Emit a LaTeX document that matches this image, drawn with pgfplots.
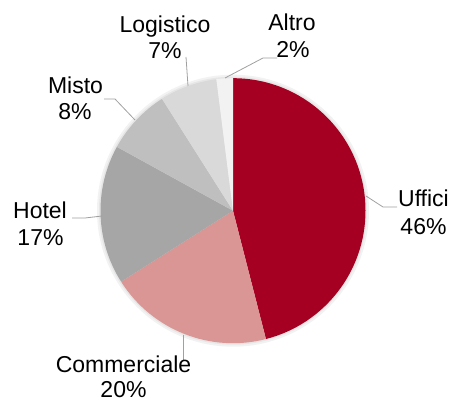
\documentclass[border=0pt]{standalone}
\usepackage{pgfplots}
\pgfplotsset{compat=1.18}
\usepackage{pgfplotstable}
\usepackage{fontspec}
\setmainfont{Liberation Sans}

\definecolor{uffici}{HTML}{A50021}
\definecolor{comm}{HTML}{D99694}
\definecolor{hotel}{HTML}{A6A6A6}
\definecolor{misto}{HTML}{BFBFBF}
\definecolor{logist}{HTML}{D9D9D9}
\definecolor{altro}{HTML}{F2F2F2}
\definecolor{leader}{HTML}{A0A0A0}

% share (%) of each sector, clockwise from 12 o'clock
\pgfplotstableread{
label value color
Uffici 46 uffici
Commerciale 20 comm
Hotel 17 hotel
Misto 8 misto
Logistico 7 logist
Altro 2 altro
}\piedata

\begin{document}
\begin{tikzpicture}
\begin{axis}[
    width=452bp, height=403bp,
    scale only axis,
    xmin=0, xmax=452,
    ymin=0, ymax=403,
    hide axis,
    clip=false,
]
% soft glow behind the pie
\fill[black, opacity=0.05] (axis cs:233,192.3) circle[radius=136bp];
\fill[black, opacity=0.05] (axis cs:233,192.3) circle[radius=134bp];

\gdef\angacc{90}
\pgfplotsinvokeforeach{0,...,5}{
    \pgfplotstablegetelem{#1}{value}\of\piedata
    \let\v\pgfplotsretval
    \pgfplotstablegetelem{#1}{color}\of\piedata
    \let\c\pgfplotsretval
    \pgfmathsetmacro\angend{\angacc-3.6*\v}
    \edef\temp{\noexpand\fill[\c] (axis cs:233,192.3) -- ++(\angacc:132.5bp)
        arc[start angle=\angacc, end angle=\angend, radius=132.5bp] -- cycle;}
    \temp
    \global\let\angacc\angend
}

% leader lines
\addplot[leader, line width=0.8pt, no markers] coordinates {(366,207) (383,196) (397,196)};
\addplot[leader, line width=0.8pt, no markers] coordinates {(183,68) (183,42)};
\addplot[leader, line width=0.8pt, no markers] coordinates {(102,187) (85,185) (72,185)};
\addplot[leader, line width=0.8pt, no markers] coordinates {(135,283) (115,304) (104,304)};
\addplot[leader, line width=0.8pt, no markers] coordinates {(188,317) (186,346)};
\addplot[leader, line width=0.8pt, no markers] coordinates {(225,325) (263,345) (277,345)};

% labels
\begin{scope}[every node/.style={anchor=base, inner sep=0pt, font=\fontsize{23bp}{27bp}\selectfont}]
\node at (axis cs:423.5,196.3) {Uffici};
\node at (axis cs:423.5,168.7) {46\%};
\node at (axis cs:123.5,31) {Commerciale};
\node at (axis cs:123.5,5.5) {20\%};
\node at (axis cs:40,184.7) {Hotel};
\node at (axis cs:40.5,157.3) {17\%};
\node at (axis cs:75.5,309.7) {Misto};
\node at (axis cs:75,283) {8\%};
\node at (axis cs:165,370.7) {Logistico};
\node at (axis cs:165,344.7) {7\%};
\node at (axis cs:292,372) {Altro};
\node at (axis cs:293,345.3) {2\%};
\end{scope}
\end{axis}
\pgfresetboundingbox
\useasboundingbox (current axis.south west) rectangle (current axis.north east);
\end{tikzpicture}
\end{document}
